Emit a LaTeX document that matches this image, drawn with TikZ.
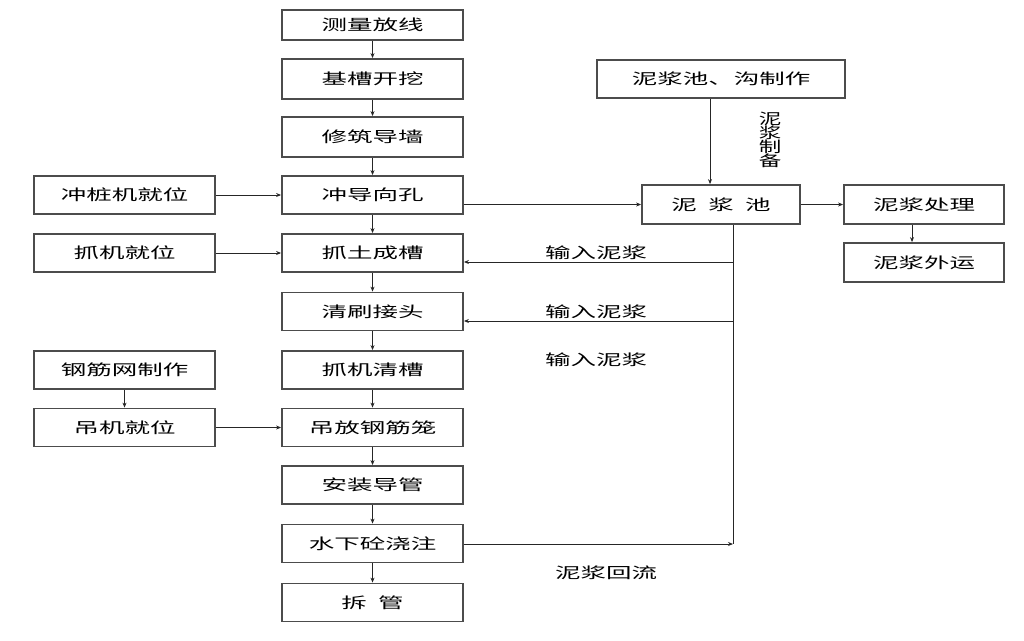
\documentclass[tikz,border=0pt]{standalone}
\usepackage{fontspec}
\newfontfamily\cjk{Noto Sans CJK SC}
\usetikzlibrary{arrows.meta}
\newcommand{\wx}[1]{\scalebox{1.7}[1]{#1}}
\newcommand{\wv}[1]{\scalebox{1.5}[1]{#1}}
\begin{document}
\begin{tikzpicture}[x=1pt,y=-1pt,
  box/.style={draw=black!70, line width=1.8pt, fill=white, minimum width=181pt, minimum height=38pt, inner sep=0pt, font=\cjk\fontsize{15}{15}\selectfont},
  lbl/.style={inner sep=0pt, font=\cjk\fontsize{15}{15}\selectfont},
  arr/.style={draw=black!85, line width=0.9pt, -{Stealth[length=5pt,width=4pt]}},
  ln/.style={draw=black!85, line width=0.9pt}]
\useasboundingbox[fill=white] (0,0) rectangle (1024,640);
% main column
\node[box, minimum height=30pt] (m1) at (372.5,25) {\wx{测量放线}};
\node[box, minimum height=40pt] (m2) at (372.5,79) {\wx{基槽开挖}};
\node[box, minimum height=40pt] (m3) at (372.5,137) {\wx{修筑导墙}};
\node[box] (m4) at (372.5,195) {\wx{冲导向孔}};
\node[box] (m5) at (372.5,253) {\wx{抓土成槽}};
\node[box] (m6) at (372.5,311.5) {\wx{清刷接头}};
\node[box] (m7) at (372.5,370) {\wx{抓机清槽}};
\node[box] (m8) at (372.5,427.5) {\wx{吊放钢筋笼}};
\node[box] (m9) at (372.5,485) {\wx{安装导管}};
\node[box] (m10) at (372.5,543.5) {\wx{水下砼浇注}};
\node[box] (m11) at (372.5,602.5) {\wx{拆\ \ 管}};
% left column
\node[box] (l1) at (124.5,195) {\wx{冲桩机就位}};
\node[box] (l2) at (124.5,253) {\wx{抓机就位}};
\node[box] (l3) at (124.5,370) {\wx{钢筋网制作}};
\node[box] (l4) at (124.5,427.5) {\wx{吊机就位}};
% right side
\node[box, minimum width=248pt] (r1) at (721,79) {\wx{泥浆池、沟制作}};
\node[box, minimum width=158pt, minimum height=39pt] (pool) at (721,204.5) {\wx{泥\ \ 浆\ \ 池}};
\node[box, minimum width=160pt, minimum height=39pt] (r2) at (924,204.5) {\wx{泥浆处理}};
\node[box, minimum width=160pt, minimum height=39pt] (r3) at (924,262.5) {\wx{泥浆外运}};
% main arrows
\foreach \a/\b in {m1/m2,m2/m3,m3/m4,m4/m5,m5/m6,m6/m7,m7/m8,m8/m9,m9/m10,m10/m11}
  \draw[arr] (\a.south) -- (\b.north);
\draw[arr] (l1.east) -- (m4.west);
\draw[arr] (l2.east) -- (m5.west);
\draw[arr] (l4.east) -- (m8.west);
\draw[arr] (l3.south) -- (l4.north);
% slurry
\coordinate (t1) at (710,98);
\draw[arr] (r1.south -| t1) -- (pool.north -| t1);
\node[lbl, align=center] (prep) at (770,140) {\wv{泥}\\[-1pt]\wv{浆}\\[-1pt]\wv{制}\\[-1pt]\wv{备}};
\draw[arr] (m4.east |- pool.west) -- (pool.west);
\draw[arr] (pool.east) -- (r2.west);
\coordinate (t2) at (912,224);
\draw[arr] (r2.south -| t2) -- (r3.north -| t2);
\coordinate (vb) at (733,224);
\coordinate (ve) at (733,544);
\coordinate (j1) at (733,262);
\coordinate (j2) at (733,321);
\draw[ln] (pool.south -| vb) -- (ve);
\draw[arr] (j1) -- (j1 -| m5.east);
\draw[arr] (j2) -- (j2 -| m6.east);
\draw[arr] (m10.east |- ve) -- (ve);
\node[lbl] (s1) at (596,253) {\wx{输入泥浆}};
\node[lbl] (s2) at (596,312) {\wx{输入泥浆}};
\node[lbl] (s3) at (596,360) {\wx{输入泥浆}};
\node[lbl] (s4) at (606,573) {\wx{泥浆回流}};
\end{tikzpicture}
\end{document}
